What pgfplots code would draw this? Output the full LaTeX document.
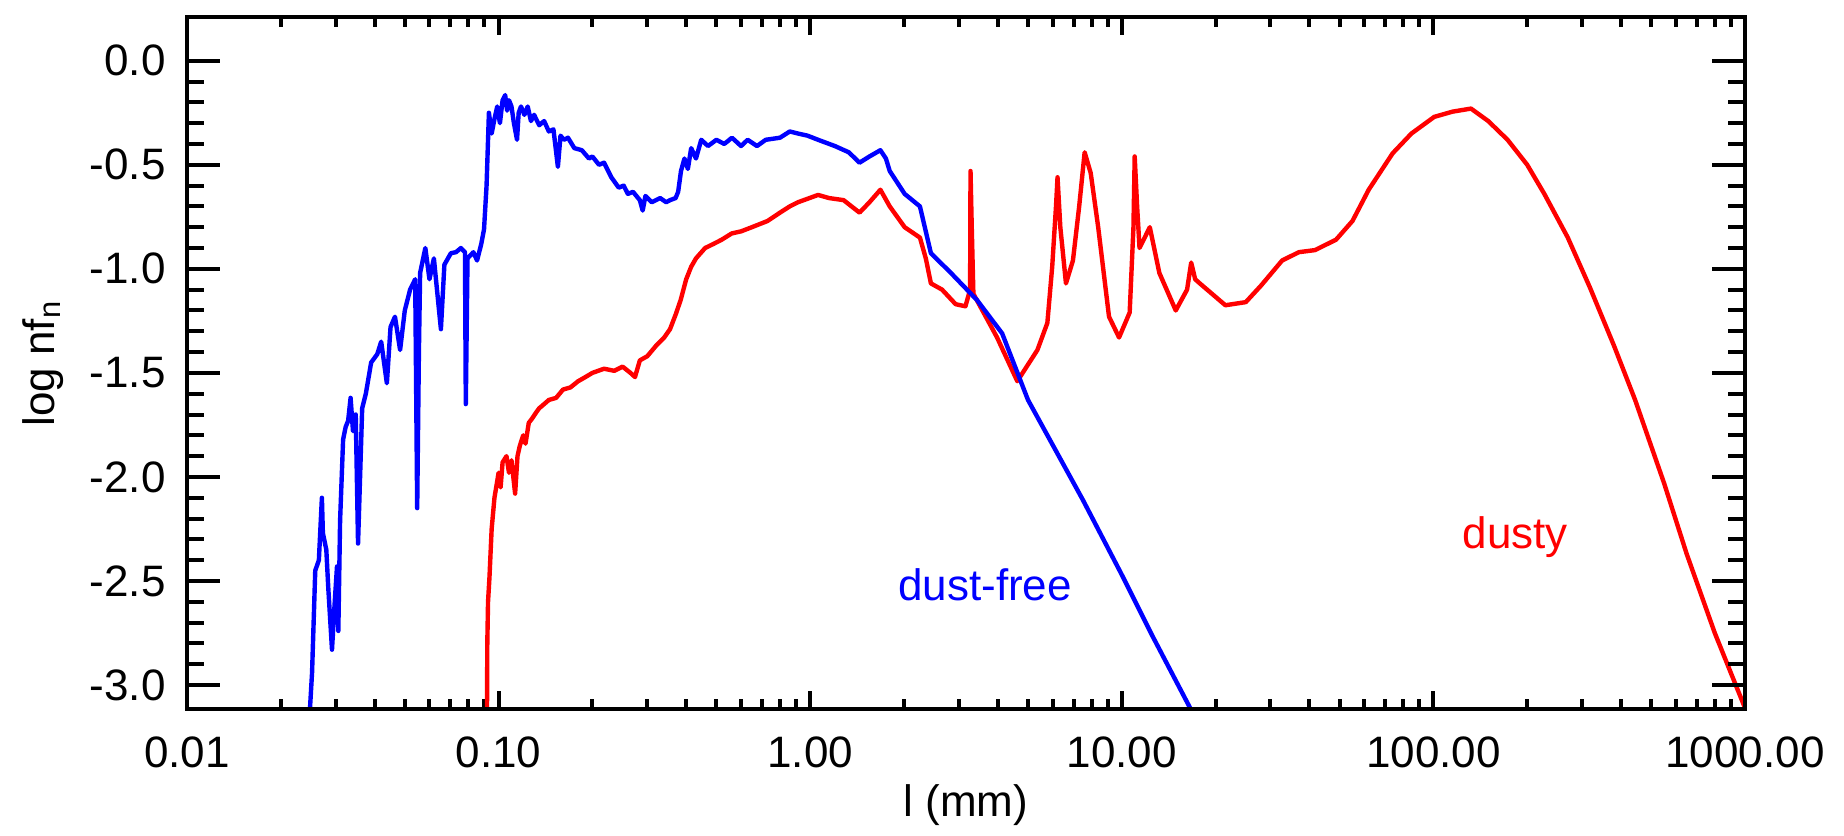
\documentclass[border=0pt]{standalone}
\usepackage{pgfplots}
\pgfplotsset{compat=1.18}
\usepackage{fontspec}
\setmainfont{Liberation Sans}
\definecolor{idlblue}{RGB}{0,0,255}
\definecolor{idlred}{RGB}{255,0,0}
\newcommand{\lblfont}{\fontsize{11}{13}\selectfont}
\begin{document}
\begin{tikzpicture}
\useasboundingbox (0,0) rectangle (461pt,209pt);
\begin{axis}[
  at={(46.75pt,31.75pt)}, anchor=south west,
  scale only axis, width=389.5pt, height=173pt,
  xmode=log, xmin=0.01, xmax=1000, ymin=-3.115, ymax=0.21,
  xtick={0.01,0.1,1,10,100,1000},
  xticklabels={0.01,0.10,1.00,10.00,100.00,1000.00},
  ytick=\empty,
  tick align=inside,
  major tick length=4.5pt, minor tick length=2.5pt,
  tick style={black, line width=1pt},
  axis line style={black, line width=1pt},
  tick label style={font=\lblfont},
  xticklabel style={anchor=center, yshift=-10.75pt},
  xlabel={l (mm)}, ylabel={log nf\textsubscript{n}},
  every axis x label/.style={at={(axis description cs:0.5,-0.139)}, anchor=center, font=\lblfont},
  every axis y label/.style={at={(axis description cs:-0.0924,0.5)}, rotate=90, anchor=center, font=\lblfont},
]
\addplot[idlred, line width=1.1pt, line join=round] coordinates {
(0.0918,-3.12) (0.0920,-2.80) (0.0925,-2.60) (0.0935,-2.48) (0.0950,-2.25)
(0.0970,-2.10) (0.1000,-1.98) (0.1015,-2.05) (0.1030,-1.93) (0.1060,-1.90)
(0.1080,-1.98) (0.1100,-1.92) (0.1130,-2.08) (0.1150,-1.90) (0.1170,-1.85)
(0.1200,-1.80) (0.1220,-1.84) (0.1250,-1.74) (0.1280,-1.72) (0.1320,-1.69)
(0.1350,-1.67) (0.1400,-1.65) (0.1450,-1.63) (0.1530,-1.62) (0.1610,-1.58)
(0.1700,-1.57) (0.1800,-1.54) (0.1900,-1.52) (0.2000,-1.50) (0.2180,-1.48)
(0.2350,-1.49) (0.2500,-1.47) (0.2650,-1.50) (0.2740,-1.52) (0.2840,-1.44)
(0.3000,-1.42) (0.3200,-1.37) (0.3400,-1.33) (0.3550,-1.29) (0.3700,-1.22)
(0.3840,-1.15) (0.4000,-1.05) (0.4150,-0.99) (0.4300,-0.95) (0.4600,-0.90)
(0.4900,-0.88) (0.5200,-0.86) (0.5600,-0.83) (0.6000,-0.82) (0.6500,-0.80)
(0.7300,-0.77) (0.8000,-0.73) (0.8600,-0.70) (0.9140,-0.68) (1.0600,-0.645)
(1.1500,-0.66) (1.2800,-0.67) (1.4400,-0.73) (1.5500,-0.68) (1.6800,-0.62)
(1.8000,-0.70) (2.0100,-0.80) (2.2500,-0.85) (2.3500,-0.95) (2.4400,-1.07)
(2.6500,-1.10) (2.9300,-1.17) (3.1500,-1.18)
(3.2600,-1.10) (3.2700,-0.53) (3.3000,-0.80) (3.3400,-1.12) (3.9800,-1.33)
(4.6200,-1.54) (5.3600,-1.39) (5.7700,-1.26) (5.9800,-0.99) (6.1500,-0.70)
(6.2200,-0.56) (6.3500,-0.80) (6.6200,-1.07) (6.9700,-0.96) (7.3000,-0.70)
(7.6000,-0.44) (7.9500,-0.54) (8.4000,-0.80) (9.1000,-1.23) (9.8000,-1.33)
(10.600,-1.21) (10.900,-0.80) (11.000,-0.46) (11.200,-0.70) (11.400,-0.90)
(12.300,-0.80) (13.200,-1.02) (14.900,-1.20) (16.200,-1.10) (16.700,-0.97)
(17.200,-1.05) (17.800,-1.07) (21.500,-1.175) (25.000,-1.16) (28.000,-1.08)
(32.700,-0.96) (37.000,-0.92) (41.700,-0.91) (48.700,-0.86) (55.000,-0.77)
(62.000,-0.62) (74.000,-0.445) (85.000,-0.35) (100.60,-0.27) (115.00,-0.245)
(132.00,-0.23) (150.00,-0.29) (173.00,-0.38) (200.00,-0.50) (227.00,-0.64)
(270.00,-0.85) (318.00,-1.09) (380.00,-1.37) (444.00,-1.63) (550.00,-2.03)
(650.00,-2.37) (800.00,-2.75) (1000.0,-3.11)
};
\addplot[idlblue, line width=1.1pt, line join=round] coordinates {
(0.0248,-3.12) (0.0252,-2.94) (0.0258,-2.45) (0.0265,-2.40) (0.0271,-2.10)
(0.0273,-2.27) (0.0280,-2.35) (0.0284,-2.53) (0.0292,-2.83) (0.0298,-2.60)
(0.0303,-2.43) (0.0306,-2.74) (0.0310,-2.21) (0.0317,-1.82) (0.0323,-1.76)
(0.0329,-1.73) (0.0335,-1.62) (0.0341,-1.78) (0.0348,-1.70) (0.0354,-2.32)
(0.0365,-1.67) (0.0375,-1.60) (0.0390,-1.45) (0.0408,-1.41) (0.0420,-1.35)
(0.0438,-1.55) (0.0450,-1.28) (0.0465,-1.23) (0.0483,-1.39) (0.0500,-1.20)
(0.0520,-1.10) (0.0540,-1.05) (0.0548,-2.15) (0.0555,-1.40) (0.0560,-1.02)
(0.0582,-0.90) (0.0600,-1.05) (0.0620,-0.95) (0.0653,-1.29) (0.0670,-0.98)
(0.0703,-0.925) (0.0730,-0.92) (0.0757,-0.90) (0.0780,-0.92) (0.0785,-1.65)
(0.0795,-0.95) (0.0830,-0.92) (0.0853,-0.96) (0.0880,-0.88) (0.0898,-0.81)
(0.0915,-0.60) (0.0931,-0.25) (0.0950,-0.35) (0.0970,-0.28) (0.0990,-0.22)
(0.1010,-0.30) (0.1030,-0.19) (0.1050,-0.165) (0.1065,-0.24) (0.1080,-0.19)
(0.1100,-0.22) (0.1120,-0.30) (0.1146,-0.38) (0.1160,-0.25) (0.1180,-0.22)
(0.1210,-0.26) (0.1240,-0.22) (0.1270,-0.29) (0.1300,-0.26) (0.1350,-0.31)
(0.1400,-0.29) (0.1450,-0.34) (0.1500,-0.33) (0.1550,-0.51) (0.1580,-0.36)
(0.1620,-0.38) (0.1670,-0.37) (0.1750,-0.42) (0.1850,-0.43) (0.1950,-0.47)
(0.2000,-0.46) (0.2100,-0.50) (0.2180,-0.49) (0.2300,-0.56) (0.2430,-0.61)
(0.2520,-0.60) (0.2600,-0.64) (0.2700,-0.63) (0.2840,-0.67) (0.2900,-0.72)
(0.2960,-0.65) (0.3100,-0.68) (0.3300,-0.66) (0.3450,-0.68) (0.3550,-0.67)
(0.3700,-0.66) (0.3770,-0.63) (0.3850,-0.53) (0.3950,-0.47) (0.4050,-0.52)
(0.4150,-0.42) (0.4300,-0.47) (0.4470,-0.38) (0.4700,-0.41) (0.5000,-0.38)
(0.5300,-0.40) (0.5610,-0.37) (0.6000,-0.41) (0.6300,-0.38) (0.6750,-0.41)
(0.7200,-0.38) (0.8000,-0.37) (0.8600,-0.34) (0.9140,-0.35) (0.9800,-0.36)
(1.0600,-0.38) (1.2000,-0.41) (1.3300,-0.44) (1.4400,-0.49) (1.5500,-0.46)
(1.6800,-0.43) (1.7500,-0.47) (1.8000,-0.53) (2.0100,-0.64) (2.2500,-0.70)
(2.4400,-0.925) (2.8300,-1.02) (3.4300,-1.15) (4.1300,-1.31)
(5.0000,-1.63) (7.5000,-2.11) (10.000,-2.47) (12.500,-2.76) (16.700,-3.12)
};
\node[text=idlblue, font=\lblfont] at (axis cs:3.64,-2.52) {dust-free};
\node[text=idlred, font=\lblfont] at (axis cs:183,-2.29) {dusty};
\end{axis}
\begin{axis}[
  at={(46.75pt,31.75pt)}, anchor=south west,
  scale only axis, width=389.5pt, height=173pt,
  xmin=0, xmax=1, ymin=-3.115, ymax=0.21,
  xtick=\empty,
  ytick={-3,-2.5,-2,-1.5,-1,-0.5,0},
  yticklabels={-3.0,-2.5,-2.0,-1.5,-1.0,-0.5,0.0},
  minor y tick num=4,
  tick align=inside,
  major tick length=8.3pt, minor tick length=4.2pt,
  tick style={black, line width=1pt},
  axis line style={black, line width=1pt},
  tick label style={font=\lblfont},
  yticklabel style={anchor=east, xshift=-1.8pt},
]
\end{axis}
\end{tikzpicture}
\end{document}
